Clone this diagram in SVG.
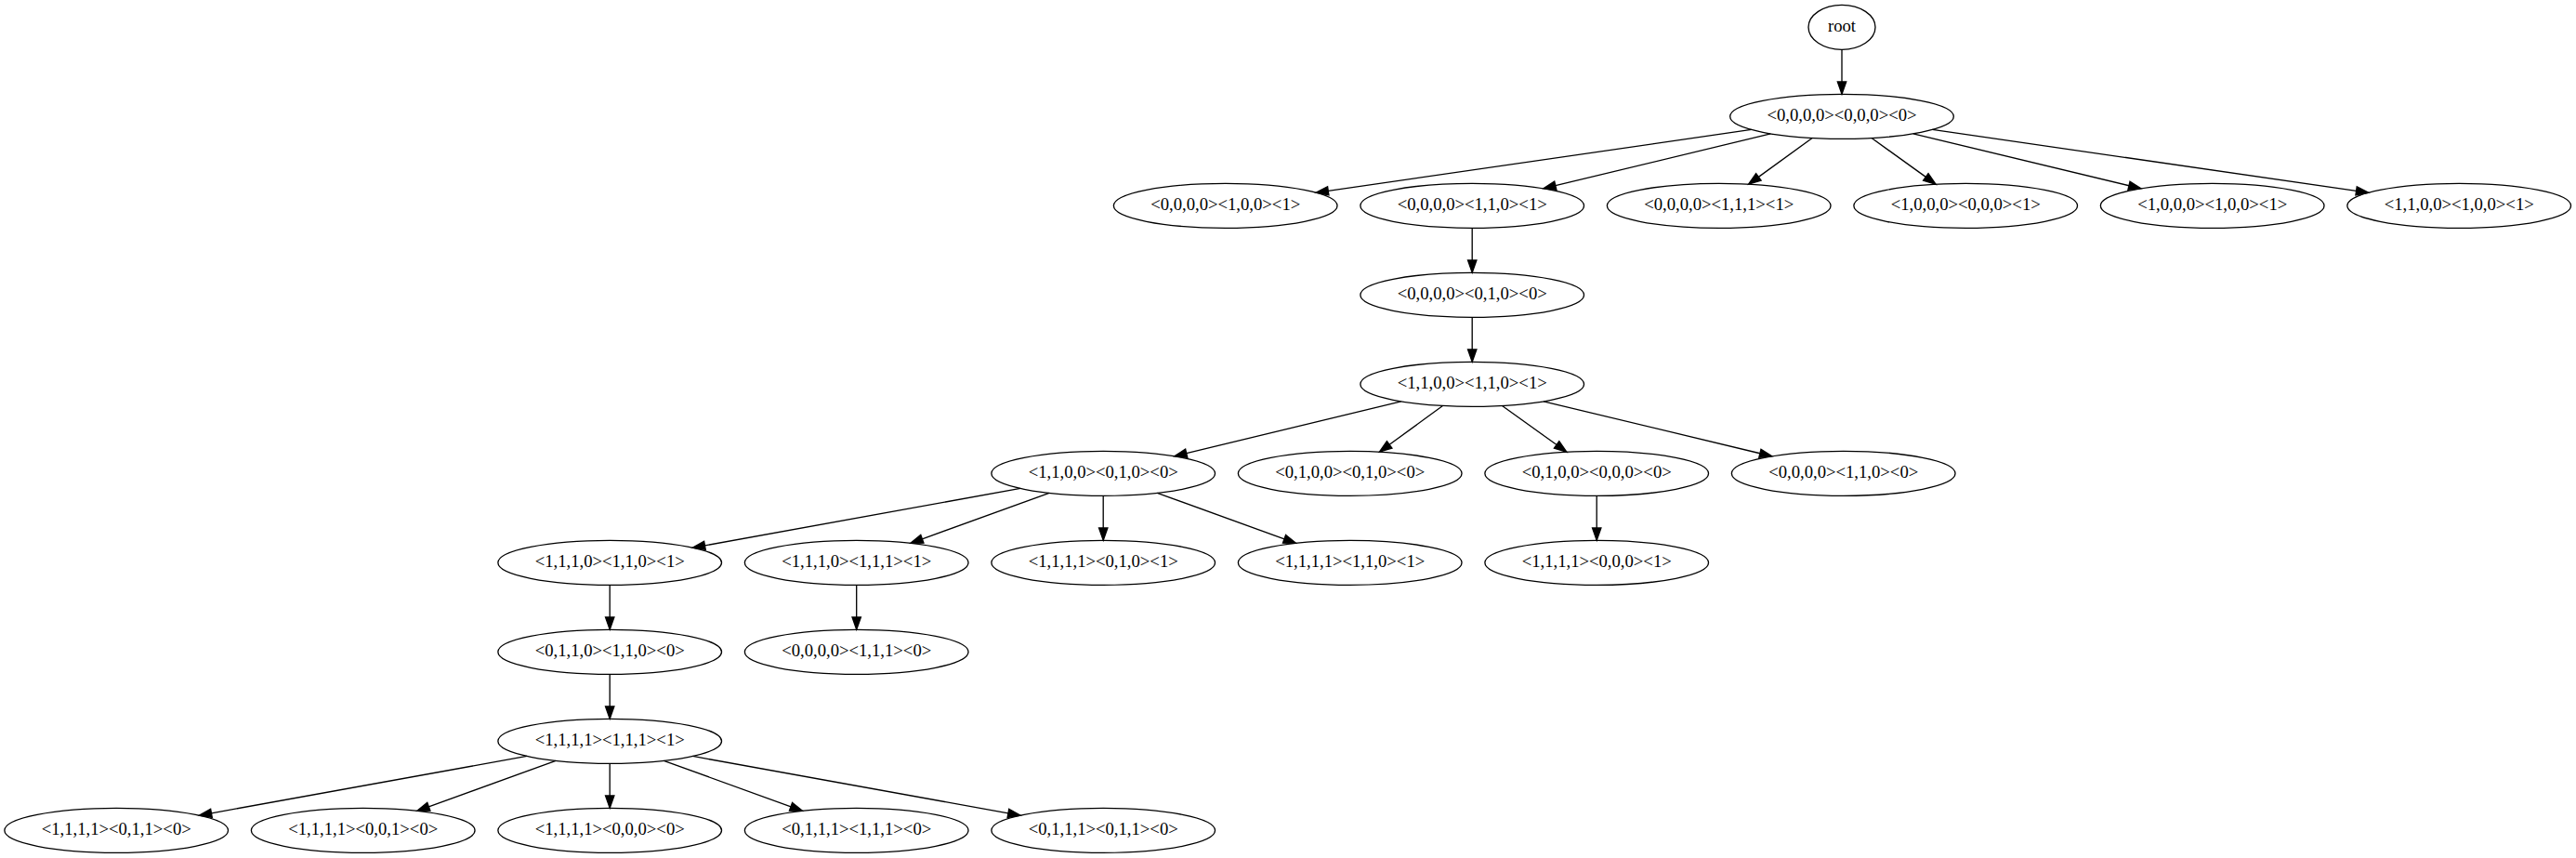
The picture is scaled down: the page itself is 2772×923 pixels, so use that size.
<svg xmlns="http://www.w3.org/2000/svg" width="2772" height="923" viewBox="0 0 2772 923">
<style>
ellipse{fill:none;stroke:#000;stroke-width:1.33}
text{font-family:"Liberation Serif","Times New Roman",serif;font-size:18.67px;text-anchor:middle;fill:#000}
.e line{stroke:#000;stroke-width:1.33}
</style>
<defs>
<marker id="ah" markerUnits="userSpaceOnUse" markerWidth="16" markerHeight="12" refX="0" refY="0" viewBox="0 -6 16 12" orient="auto" overflow="visible">
<path d="M0,-4.67 L13.33,0 L0,4.67 z" fill="#000" stroke="#000" stroke-width="1.33"/>
</marker>
</defs>
<rect width="2772" height="923" fill="#fff"/>
<g id="connectors" class="e" marker-end="url(#ah)">
<line x1="1982" y1="53.33" x2="1982" y2="88" marker-end="url(#ah)"/>
<line x1="1884.63" y1="139.42" x2="1429.26" y2="205.33" marker-end="url(#ah)"/>
<line x1="1905.34" y1="143.83" x2="1673.82" y2="199.7" marker-end="url(#ah)"/>
<line x1="1950.11" y1="148.47" x2="1892.38" y2="190.36" marker-end="url(#ah)"/>
<line x1="2014.09" y1="148.46" x2="2072.3" y2="190.41" marker-end="url(#ah)"/>
<line x1="2058.76" y1="143.81" x2="2290.98" y2="199.73" marker-end="url(#ah)"/>
<line x1="2079.44" y1="139.41" x2="2535.57" y2="205.34" marker-end="url(#ah)"/>
<line x1="1584.2" y1="245.33" x2="1584.2" y2="280" marker-end="url(#ah)"/>
<line x1="1584.2" y1="341.33" x2="1584.2" y2="376" marker-end="url(#ah)"/>
<line x1="1507.63" y1="431.84" x2="1276.73" y2="487.69" marker-end="url(#ah)"/>
<line x1="1552.49" y1="436.48" x2="1495.18" y2="478.32" marker-end="url(#ah)"/>
<line x1="1616.47" y1="436.45" x2="1675.09" y2="478.45" marker-end="url(#ah)"/>
<line x1="1661.05" y1="431.8" x2="1893.89" y2="487.75" marker-end="url(#ah)"/>
<line x1="1098.05" y1="525.45" x2="758.47" y2="586.84" marker-end="url(#ah)"/>
<line x1="1129.08" y1="530.34" x2="992.36" y2="579.79" marker-end="url(#ah)"/>
<line x1="1187.2" y1="533.33" x2="1187.2" y2="568" marker-end="url(#ah)"/>
<line x1="1245.32" y1="530.34" x2="1382.04" y2="579.79" marker-end="url(#ah)"/>
<line x1="1718.2" y1="533.33" x2="1718.2" y2="568" marker-end="url(#ah)"/>
<line x1="656.2" y1="629.33" x2="656.2" y2="664" marker-end="url(#ah)"/>
<line x1="921.7" y1="629.33" x2="921.7" y2="664" marker-end="url(#ah)"/>
<line x1="656.2" y1="725.33" x2="656.2" y2="760" marker-end="url(#ah)"/>
<line x1="567.05" y1="813.45" x2="227.47" y2="874.84" marker-end="url(#ah)"/>
<line x1="598.08" y1="818.34" x2="461.36" y2="867.79" marker-end="url(#ah)"/>
<line x1="656.2" y1="821.33" x2="656.2" y2="856" marker-end="url(#ah)"/>
<line x1="714.32" y1="818.34" x2="851.04" y2="867.79" marker-end="url(#ah)"/>
<line x1="745.35" y1="813.45" x2="1084.93" y2="874.84" marker-end="url(#ah)"/>
</g>
<g id="n0"><ellipse cx="1982" cy="29.33" rx="36" ry="24"/><text x="1982" y="34.33">root</text></g>
<g id="n1"><ellipse cx="1982" cy="125.33" rx="120.33" ry="24"/><text x="1982" y="130.33">&lt;0,0,0,0&gt;&lt;0,0,0&gt;&lt;0&gt;</text></g>
<g id="n2"><ellipse cx="1318.7" cy="221.33" rx="120.33" ry="24"/><text x="1318.7" y="226.33">&lt;0,0,0,0&gt;&lt;1,0,0&gt;&lt;1&gt;</text></g>
<g id="n3"><ellipse cx="1584.2" cy="221.33" rx="120.33" ry="24"/><text x="1584.2" y="226.33">&lt;0,0,0,0&gt;&lt;1,1,0&gt;&lt;1&gt;</text></g>
<g id="n4"><ellipse cx="1849.7" cy="221.33" rx="120.33" ry="24"/><text x="1849.7" y="226.33">&lt;0,0,0,0&gt;&lt;1,1,1&gt;&lt;1&gt;</text></g>
<g id="n5"><ellipse cx="2115.2" cy="221.33" rx="120.33" ry="24"/><text x="2115.2" y="226.33">&lt;1,0,0,0&gt;&lt;0,0,0&gt;&lt;1&gt;</text></g>
<g id="n6"><ellipse cx="2380.7" cy="221.33" rx="120.33" ry="24"/><text x="2380.7" y="226.33">&lt;1,0,0,0&gt;&lt;1,0,0&gt;&lt;1&gt;</text></g>
<g id="n7"><ellipse cx="2646.2" cy="221.33" rx="120.33" ry="24"/><text x="2646.2" y="226.33">&lt;1,1,0,0&gt;&lt;1,0,0&gt;&lt;1&gt;</text></g>
<g id="n8"><ellipse cx="1584.2" cy="317.33" rx="120.33" ry="24"/><text x="1584.2" y="322.33">&lt;0,0,0,0&gt;&lt;0,1,0&gt;&lt;0&gt;</text></g>
<g id="n9"><ellipse cx="1584.2" cy="413.33" rx="120.33" ry="24"/><text x="1584.2" y="418.33">&lt;1,1,0,0&gt;&lt;1,1,0&gt;&lt;1&gt;</text></g>
<g id="n10"><ellipse cx="1187.2" cy="509.33" rx="120.33" ry="24"/><text x="1187.2" y="514.33">&lt;1,1,0,0&gt;&lt;0,1,0&gt;&lt;0&gt;</text></g>
<g id="n11"><ellipse cx="1452.7" cy="509.33" rx="120.33" ry="24"/><text x="1452.7" y="514.33">&lt;0,1,0,0&gt;&lt;0,1,0&gt;&lt;0&gt;</text></g>
<g id="n12"><ellipse cx="1718.2" cy="509.33" rx="120.33" ry="24"/><text x="1718.2" y="514.33">&lt;0,1,0,0&gt;&lt;0,0,0&gt;&lt;0&gt;</text></g>
<g id="n13"><ellipse cx="1983.7" cy="509.33" rx="120.33" ry="24"/><text x="1983.7" y="514.33">&lt;0,0,0,0&gt;&lt;1,1,0&gt;&lt;0&gt;</text></g>
<g id="n14"><ellipse cx="656.2" cy="605.33" rx="120.33" ry="24"/><text x="656.2" y="610.33">&lt;1,1,1,0&gt;&lt;1,1,0&gt;&lt;1&gt;</text></g>
<g id="n15"><ellipse cx="921.7" cy="605.33" rx="120.33" ry="24"/><text x="921.7" y="610.33">&lt;1,1,1,0&gt;&lt;1,1,1&gt;&lt;1&gt;</text></g>
<g id="n16"><ellipse cx="1187.2" cy="605.33" rx="120.33" ry="24"/><text x="1187.2" y="610.33">&lt;1,1,1,1&gt;&lt;0,1,0&gt;&lt;1&gt;</text></g>
<g id="n17"><ellipse cx="1452.7" cy="605.33" rx="120.33" ry="24"/><text x="1452.7" y="610.33">&lt;1,1,1,1&gt;&lt;1,1,0&gt;&lt;1&gt;</text></g>
<g id="n18"><ellipse cx="1718.2" cy="605.33" rx="120.33" ry="24"/><text x="1718.2" y="610.33">&lt;1,1,1,1&gt;&lt;0,0,0&gt;&lt;1&gt;</text></g>
<g id="n19"><ellipse cx="656.2" cy="701.33" rx="120.33" ry="24"/><text x="656.2" y="706.33">&lt;0,1,1,0&gt;&lt;1,1,0&gt;&lt;0&gt;</text></g>
<g id="n20"><ellipse cx="921.7" cy="701.33" rx="120.33" ry="24"/><text x="921.7" y="706.33">&lt;0,0,0,0&gt;&lt;1,1,1&gt;&lt;0&gt;</text></g>
<g id="n21"><ellipse cx="656.2" cy="797.33" rx="120.33" ry="24"/><text x="656.2" y="802.33">&lt;1,1,1,1&gt;&lt;1,1,1&gt;&lt;1&gt;</text></g>
<g id="n22"><ellipse cx="125.2" cy="893.33" rx="120.33" ry="24"/><text x="125.2" y="898.33">&lt;1,1,1,1&gt;&lt;0,1,1&gt;&lt;0&gt;</text></g>
<g id="n23"><ellipse cx="390.7" cy="893.33" rx="120.33" ry="24"/><text x="390.7" y="898.33">&lt;1,1,1,1&gt;&lt;0,0,1&gt;&lt;0&gt;</text></g>
<g id="n24"><ellipse cx="656.2" cy="893.33" rx="120.33" ry="24"/><text x="656.2" y="898.33">&lt;1,1,1,1&gt;&lt;0,0,0&gt;&lt;0&gt;</text></g>
<g id="n25"><ellipse cx="921.7" cy="893.33" rx="120.33" ry="24"/><text x="921.7" y="898.33">&lt;0,1,1,1&gt;&lt;1,1,1&gt;&lt;0&gt;</text></g>
<g id="n26"><ellipse cx="1187.2" cy="893.33" rx="120.33" ry="24"/><text x="1187.2" y="898.33">&lt;0,1,1,1&gt;&lt;0,1,1&gt;&lt;0&gt;</text></g>
</svg>
